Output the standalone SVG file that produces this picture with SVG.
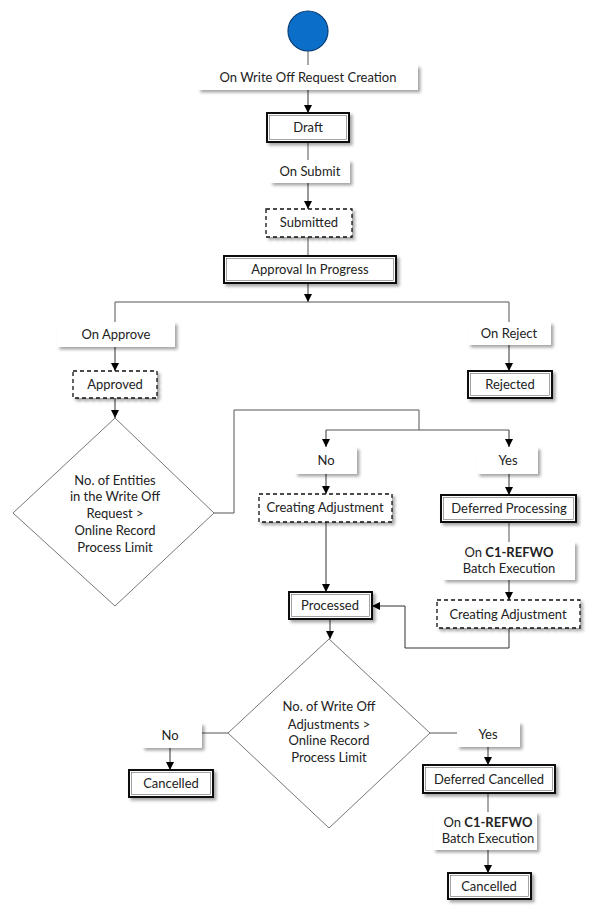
<svg xmlns="http://www.w3.org/2000/svg" width="605" height="917" viewBox="0 0 605 917">
<defs>
<filter id="sh" x="-20%" y="-30%" width="150%" height="180%">
<feDropShadow dx="2.5" dy="2.5" stdDeviation="1.8" flood-color="#000" flood-opacity="0.35"/>
</filter>
<marker id="ar" viewBox="0 0 10 10" refX="10" refY="5" markerWidth="8" markerHeight="8" markerUnits="userSpaceOnUse" orient="auto">
<path d="M0,0 L10,5 L0,10 z" fill="#000"/>
</marker>
</defs>
<style>
text{font-family:Lato,"Liberation Sans",sans-serif;font-size:13px;fill:#222;text-anchor:middle}
.lbl{fill:#fff;filter:url(#sh)}
.st{fill:#fff;stroke:#111;stroke-width:2;filter:url(#sh)}
.in{fill:none;stroke:#666;stroke-width:0.6}
.ds{fill:#fff;stroke:#111;stroke-width:1.3;stroke-dasharray:4 3;filter:url(#sh)}
.dm{fill:#fff;stroke:#777;stroke-width:1}
.c{fill:none;stroke:#555;stroke-width:1}
.a{fill:none;stroke:#333;stroke-width:1;marker-end:url(#ar)}
</style>
<rect width="605" height="917" fill="#fff"/>
<g id="connectors">
<path class="c" d="M308,51 V65"/>
<path class="a" d="M308,90 V113"/>
<path class="c" d="M308,142 V160"/>
<path class="a" d="M308,183 V209"/>
<path class="c" d="M308,237 V256"/>
<path class="a" d="M308,283 V302"/>
<path class="c" d="M115,322 V302 H509 V322"/>
<path class="a" d="M115,347 V371"/>
<path class="a" d="M115,398 V418"/>
<path class="a" d="M509,345 V371"/>
<path class="c" d="M214,513 H234 V410 H419 V430"/>
<path class="a" d="M326,430 V447"/>
<path class="c" d="M326,430 H509"/>
<path class="a" d="M509,430 V447"/>
<path class="a" d="M326,474 V494"/>
<path class="a" d="M509,474 V495"/>
<path class="a" d="M326,522 V592"/>
<path class="c" d="M509,522 V542"/>
<path class="a" d="M509,580 V600"/>
<path class="a" d="M509,628 V648 H405 V606 H372"/>
<path class="a" d="M330,619 V639"/>
<path class="c" d="M228,733 H202"/>
<path class="a" d="M170,748 V770"/>
<path class="c" d="M430,733 H457"/>
<path class="a" d="M488,747 V765"/>
<path class="c" d="M488,793 V812"/>
<path class="a" d="M488,850 V873"/>
</g>
<g id="start"><circle cx="308" cy="31" r="20" fill="#0b6fc9" stroke="#0a3d73" stroke-width="1.2"/></g>
<g id="l_creation"><rect class="lbl" x="198" y="65" width="220" height="25"/><text x="308" y="82">On Write Off Request Creation</text></g>
<g id="draft"><rect class="st" x="267" y="113" width="82" height="29"/><rect class="in" x="269.5" y="115.5" width="77" height="24"/><text x="308" y="132">Draft</text></g>
<g id="l_submit"><rect class="lbl" x="270" y="160" width="80" height="23"/><text x="310" y="176">On Submit</text></g>
<g id="submitted"><rect class="ds" x="266" y="209" width="86" height="28"/><text x="309" y="227">Submitted</text></g>
<g id="approval"><rect class="st" x="224" y="256" width="172" height="27"/><rect class="in" x="226.5" y="258.5" width="167" height="22"/><text x="310" y="274">Approval In Progress</text></g>
<g id="l_approve"><rect class="lbl" x="57" y="322" width="118" height="25"/><text x="116" y="339">On Approve</text></g>
<g id="approved"><rect class="ds" x="73" y="371" width="84" height="27"/><text x="115" y="389">Approved</text></g>
<g id="l_reject"><rect class="lbl" x="468" y="322" width="83" height="23"/><text x="509" y="338">On Reject</text></g>
<g id="rejected"><rect class="st" x="468" y="371" width="84" height="27"/><rect class="in" x="470.5" y="373.5" width="79" height="22"/><text x="510" y="389">Rejected</text></g>
<g id="decision1"><path class="dm" d="M115,418 L214,513 L115,606 L13,513 Z"/>
<text x="115" y="485">No. of Entities</text><text x="115" y="501">in the Write Off</text><text x="115" y="518">Request &gt;</text><text x="115" y="535">Online Record</text><text x="115" y="552">Process Limit</text></g>
<g id="l_no1"><rect class="lbl" x="295" y="447" width="62" height="27"/><text x="326" y="465">No</text></g>
<g id="l_yes1"><rect class="lbl" x="477" y="447" width="61" height="27"/><text x="508" y="465">Yes</text></g>
<g id="creating1"><rect class="ds" x="259" y="494" width="133" height="28"/><text x="325" y="512">Creating Adjustment</text></g>
<g id="deferred_proc"><rect class="st" x="441" y="495" width="135" height="27"/><rect class="in" x="443.5" y="497.5" width="130" height="22"/><text x="509" y="513">Deferred Processing</text></g>
<g id="l_batch1"><rect class="lbl" x="443" y="542" width="132" height="38"/><text x="509" y="557">On <tspan font-weight="bold">C1-REFWO</tspan></text><text x="509" y="573">Batch Execution</text></g>
<g id="creating2"><rect class="ds" x="437" y="600" width="143" height="28"/><text x="508" y="619">Creating Adjustment</text></g>
<g id="processed"><rect class="st" x="289" y="592" width="83" height="27"/><rect class="in" x="291.5" y="594.5" width="78" height="22"/><text x="330" y="610">Processed</text></g>
<g id="decision2"><path class="dm" d="M329,639 L430,733 L329,828 L228,733 Z"/>
<text x="329" y="711">No. of Write Off</text><text x="329" y="729">Adjustments &gt;</text><text x="329" y="745">Online Record</text><text x="329" y="762">Process Limit</text></g>
<g id="l_no2"><rect class="lbl" x="142" y="723" width="60" height="25"/><text x="170" y="740">No</text></g>
<g id="cancelled1"><rect class="st" x="129" y="770" width="84" height="27"/><rect class="in" x="131.5" y="772.5" width="79" height="22"/><text x="171" y="788">Cancelled</text></g>
<g id="l_yes2"><rect class="lbl" x="457" y="722" width="63" height="25"/><text x="488" y="739">Yes</text></g>
<g id="deferred_cancel"><rect class="st" x="423" y="765" width="132" height="28"/><rect class="in" x="425.5" y="767.5" width="127" height="23"/><text x="489" y="784">Deferred Cancelled</text></g>
<g id="l_batch2"><rect class="lbl" x="433" y="812" width="104" height="38"/><text x="488" y="827">On <tspan font-weight="bold">C1-REFWO</tspan></text><text x="488" y="843">Batch Execution</text></g>
<g id="cancelled2"><rect class="st" x="448" y="873" width="83" height="26"/><rect class="in" x="450.5" y="875.5" width="78" height="21"/><text x="489" y="891">Cancelled</text></g>
</svg>
